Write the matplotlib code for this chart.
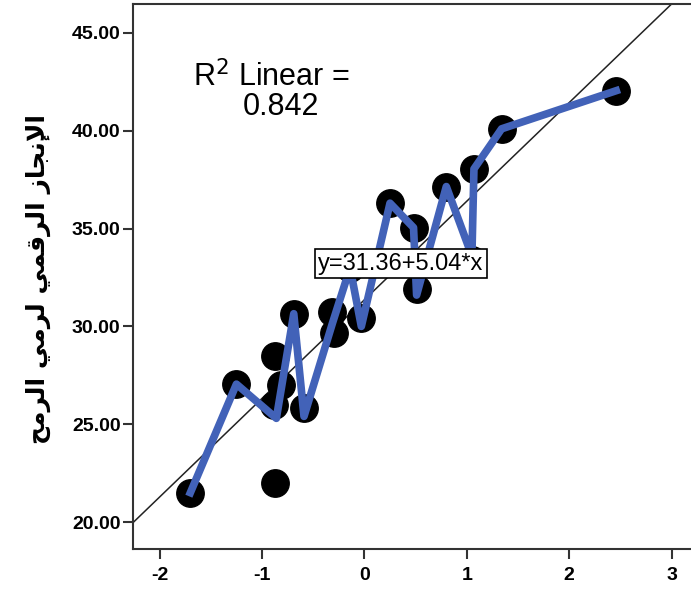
import matplotlib
matplotlib.use('Agg')
import matplotlib.pyplot as plt
import numpy as np

# scatter points (x = standardized predictor, y = javelin score)
x_pts = [-1.70, -1.25, -0.87, -0.81, -0.88, -0.87, -0.69, -0.59, -0.32, -0.30,
         -0.14, -0.03, 0.25, 0.48, 0.51, 0.80, 1.05, 1.07, 1.34, 2.46]
y_pts = [21.5, 27.05, 28.5, 27.0, 26.0, 22.0, 30.65, 25.85, 30.75, 29.65,
         33.0, 30.45, 36.3, 35.05, 31.9, 37.15, 33.4, 38.05, 40.1, 42.05]

# interpolation line vertices
line_x = [-1.70, -1.25, -0.86, -0.69, -0.59, -0.31, -0.14, -0.03, 0.25, 0.48,
          0.51, 0.80, 1.05, 1.07, 1.34, 2.46]
line_y = [21.5, 27.05, 25.3, 30.65, 25.4, 30.2, 33.0, 30.0, 36.3, 35.05,
          31.6, 37.15, 33.6, 38.05, 40.1, 42.05]

intercept = 31.36
slope = 5.04
r2 = 0.842

x_ticks = [-2, -1, 0, 1, 2, 3]
y_ticks = [20, 25, 30, 35, 40, 45]

# Arabic label in presentation forms (logical order), reversed for LTR drawing
label_logical = ('\ufe8d\ufef9\ufee7\ufea0\ufe8e\ufeaf '
                 '\ufe8d\ufedf\ufeae\ufed7\ufee4\ufef2 '
                 '\ufedf\ufeae\ufee3\ufef2 '
                 '\ufe8d\ufedf\ufeae\ufee3\ufea2')
y_label = label_logical[::-1]

plt.rcParams['font.family'] = ['Liberation Sans', 'DejaVu Sans']
plt.rcParams['axes.unicode_minus'] = False

fig = plt.figure(figsize=(6.91, 5.92), dpi=100)
ax = fig.add_axes([0.1925, 0.0726, 0.8075, 0.9206])
ax.set_xlim(-2.26, 3.19)
ax.set_ylim(18.62, 46.48)

xs = np.array([-2.26, 3.19])
ax.plot(xs, intercept + slope * xs, color='#222222', lw=1.1, zorder=1)

ax.scatter(x_pts, y_pts, s=390, color='black', zorder=2)
ax.plot(line_x, line_y, color='#4262B8', lw=5.5, solid_joinstyle='round', zorder=3)

ax.text(0.356, 33.21, 'y=31.36+5.04*x', fontsize=17, ha='center', va='center',
        zorder=5, bbox=dict(boxstyle='square,pad=0.15', fc='white', ec='black', lw=1.2))

ax.text(-1.67, 42.25, 'R$^2$ Linear =', fontsize=22, ha='left', va='baseline')
ax.text(-1.19, 40.8, f'{r2:.3f}', fontsize=22, ha='left', va='baseline')

ax.set_xticks(x_ticks)
ax.set_yticks(y_ticks)
ax.set_yticklabels([f'{v:.2f}' for v in y_ticks])
for lab in ax.get_xticklabels() + ax.get_yticklabels():
    lab.set_fontweight('bold')
    lab.set_fontsize(14)
ax.tick_params(direction='out', length=7, width=1.5, color='#333333', pad=2)
ax.tick_params(axis='x', pad=6)

ax.spines['right'].set_visible(False)
for side in ['left', 'bottom', 'top']:
    ax.spines[side].set_linewidth(1.5)
    ax.spines[side].set_color('#333333')

fig.text(0.055, 0.528, y_label, rotation=90, ha='center', va='center',
         fontsize=18, fontweight='bold', family=['DejaVu Sans'])

fig.savefig('out.png', dpi=100)
